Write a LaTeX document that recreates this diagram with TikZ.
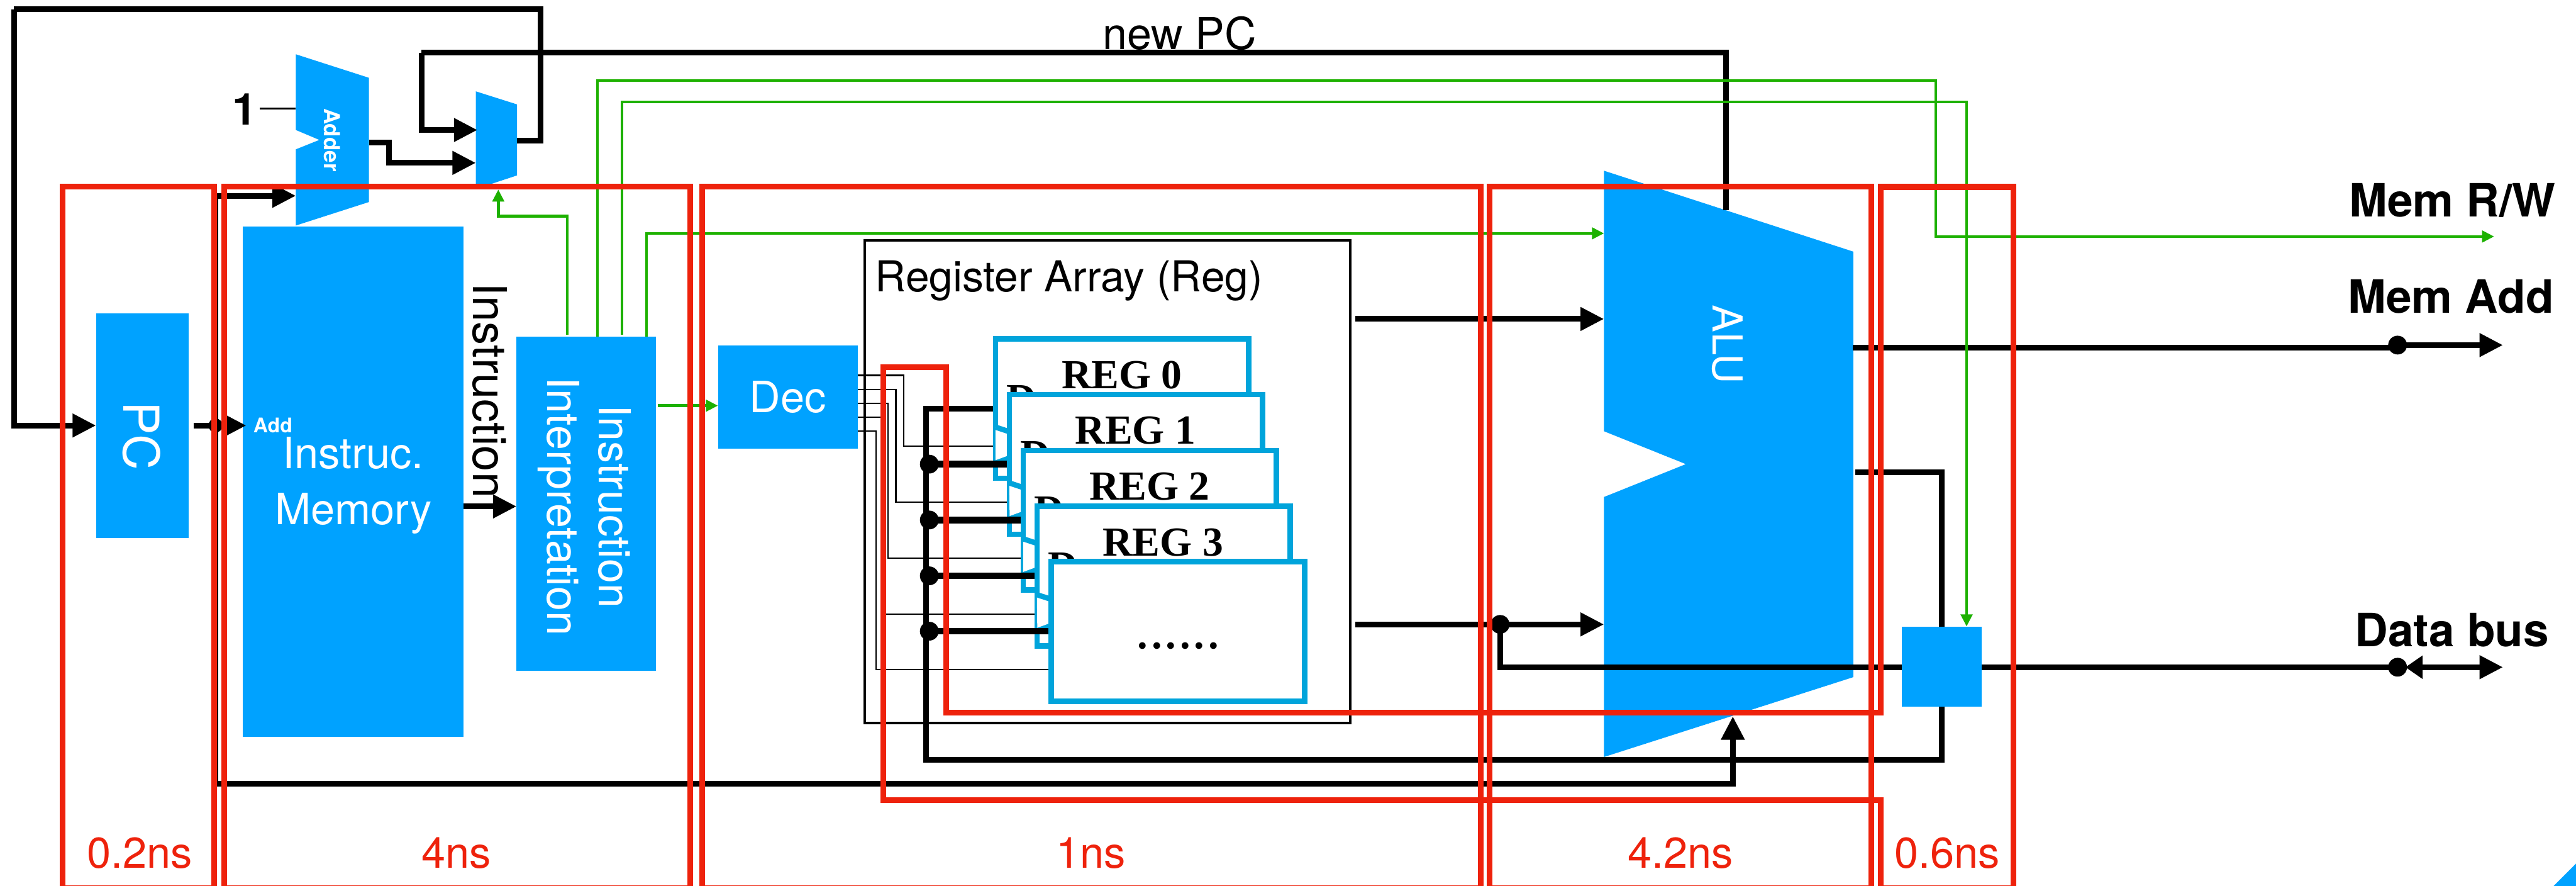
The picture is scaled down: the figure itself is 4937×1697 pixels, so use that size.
\documentclass[tikz,border=0pt]{standalone}
\usepackage{fontspec}
\setmainfont{TeX Gyre Heros}
\newfontfamily\regfont{Liberation Serif}
\usepackage{xcolor}
\usetikzlibrary{
    positioning,     % relative node placement
    arrows.meta,     % Triangle tips
    calc             % coordinate calculations
}
\definecolor{blockblue}{HTML}{00A2FF}
\definecolor{regblue}{HTML}{00A4DB}
\definecolor{stagered}{HTML}{EE220C}
\definecolor{ctrlgreen}{HTML}{1DB100}

\begin{document}
\begin{tikzpicture}[x=0.01cm, y=-0.01cm]

    % --- Style Definitions ---
    \tikzset{
        % the solid blue blocks
        block/.style={
            rectangle,
            fill=blockblue,
            inner sep=0pt,
            outer sep=0pt,
            font=\fontsize{23.5}{30.5}\selectfont,
            text=white,
            align=center
        },
        % white label turned on its side
        sidelabel/.style={
            font=\fontsize{24}{28}\selectfont,
            text=white,
            align=center,
            rotate=-90,
            inner sep=0pt
        },
        % the register cards
        regcard/.style={
            rectangle,
            draw=regblue,
            line width=2.9pt,
            fill=white,
            minimum width=4.85cm,
            minimum height=2.67cm,
            inner sep=0pt
        },
        regname/.style={
            font=\regfont\bfseries\fontsize{22.5}{26}\selectfont,
            inner sep=0pt
        },
        clock/.style={
            draw=regblue,
            line width=2.9pt,
            fill=white
        },
        % black connections
        bus/.style={
            line width=3.1pt
        },
        busarrow/.style={
            bus,
            -{Triangle[length=0.45cm, width=0.43cm]}
        },
        wire/.style={
            line width=0.75pt
        },
        % green control lines
        ctrl/.style={
            draw=ctrlgreen,
            line width=1.5pt,
            -{Triangle[length=0.23cm, width=0.22cm]}
        },
        junction/.style={
            circle,
            fill=black,
            inner sep=0pt,
            minimum size=0.36cm
        },
        % red timing regions
        stage/.style={
            rectangle,
            draw=stagered,
            line width=3.1pt,
            inner sep=0pt,
            minimum height=13.43cm
        },
        stagetime/.style={
            font=\fontsize{23.5}{26}\selectfont,
            text=stagered,
            inner sep=0pt
        },
        outlabel/.style={
            font=\bfseries\fontsize{25}{30}\selectfont,
            inner sep=0pt
        }
    }

    \useasboundingbox (0,0) rectangle (4937,1697);

    % --- Blocks ---
    \node[block, minimum width=1.78cm, minimum height=4.30cm] (pc) at (273,815) {};
    \node[block, minimum width=4.23cm, minimum height=9.77cm] (imem) at (676.5,922.5) {};
    \node[block, minimum width=2.67cm, minimum height=6.40cm] (interp) at (1123.5,965) {};
    \node[block, minimum width=2.68cm, minimum height=1.97cm] (dec) at (1510,760.5) {Dec};
    \node[block, minimum width=1.53cm, minimum height=1.53cm] (gate) at (3721.5,1276.5) {};

    \node[sidelabel, font=\fontsize{27}{30}\selectfont] (pclabel) at (271,835) {PC};
    \node[block, fill=none] (imemlabel) at (677,930) {Instruc.\\Memory};
    \node[sidelabel] (interplabel) at (1120,970) {Instruction\\Interpretation};
    \node[font=\bfseries\fontsize{11}{13}\selectfont, text=white, inner sep=0pt] (addlabel) at (523,815) {Add};

    % Adder, mux and ALU are notched shapes
    \fill[blockblue] (567,104) -- (707,149) -- (707,387) -- (567,432) -- (567,286) -- (612,268) -- (567,249) -- cycle;
    \fill[blockblue] (912,175) -- (991,200) -- (991,336) -- (912,362) -- cycle;
    \fill[blockblue] (3074,327) -- (3552,482) -- (3552,1297) -- (3074,1450) -- (3074,952) -- (3231,889) -- (3074,826) -- cycle;

    \node[sidelabel, font=\bfseries\fontsize{12}{14}\selectfont] (adder) at (636,268) {Adder};
    \node[sidelabel, font=\fontsize{22.5}{26}\selectfont] (alu) at (3311,660) {ALU};

    \coordinate (adderone) at (567,208);
    \coordinate (adderpc) at (567,375);
    \coordinate (adderout) at (708,273);
    \coordinate (muxa) at (915,249);
    \coordinate (muxb) at (912,312);
    \coordinate (muxout) at (991,269);
    \coordinate (muxctrl) at (955,363);
    \coordinate (aluctrl) at (3074,447);
    \coordinate (aluup) at (3308,403);
    \coordinate (alua) at (3074,611);
    \coordinate (alub) at (3074,1196);
    \coordinate (aluout) at (3551,666);
    \coordinate (aluback) at (3556,905);
    \coordinate (alupc) at (3321,1372);

    % --- Register array ---
    \node[rectangle, draw, line width=1.4pt, minimum width=9.29cm, minimum height=9.24cm, inner sep=0pt] (regarray) at (2122.5,923) {};
    \node[font=\fontsize{23.2}{27}\selectfont, inner sep=0pt, anchor=base west] (regtitle) at (1677,559) {Register Array (Reg)};

    \node[regcard] (reg0) at (2150.5,782.5) {};
    \node[regname] (reg0name) at (2150,718) {REG 0};
    \node[regname, anchor=base west] (reg0d) at (1928,790) {D};
    \draw[clock] (reg0.west |- 0,818) ++(5,0) -- (2007,851) -- (1908,887);

    \node[regcard] (reg1) at (2177,889.5) {};
    \node[regname] (reg1name) at (2176,825) {REG 1};
    \node[regname, anchor=base west] (reg1d) at (1955,897) {D};
    \draw[clock] (reg1.west |- 0,925) ++(5,0) -- (2034,958) -- (1935,994);

    \node[regcard] (reg2) at (2203.5,996.5) {};
    \node[regname] (reg2name) at (2203,932) {REG 2};
    \node[regname, anchor=base west] (reg2d) at (1981,1004) {D};
    \draw[clock] (reg2.west |- 0,1032) ++(5,0) -- (2060,1065) -- (1961,1101);

    \node[regcard] (reg3) at (2230,1103.5) {};
    \node[regname] (reg3name) at (2229,1039) {REG 3};
    \node[regname, anchor=base west] (reg3d) at (2008,1111) {D};
    \draw[clock] (reg3.west |- 0,1139) ++(5,0) -- (2087,1172) -- (1988,1208);

    \node[regcard] (regmore) at (2257.5,1209.5) {};
    \node[font=\regfont\fontsize{31}{36}\selectfont, inner sep=0pt, anchor=base] (regdots) at (2258,1242) {......};

    % --- Junctions ---
    \node[junction, minimum size=0.27cm] (pcdot) at (413,815) {};
    \node[junction] (regdot0) at (1781,889) {};
    \node[junction] (regdot1) at (1781,996) {};
    \node[junction] (regdot2) at (1781,1103) {};
    \node[junction] (regdot3) at (1781,1209) {};
    \node[junction] (bdot) at (2875,1196) {};
    \node[junction] (memdot) at (4595,661) {};
    \node[junction] (datadot) at (4595,1278) {};

    % --- Black connections ---
    % PC out, up to the adder and round to the ALU
    \draw[busarrow] (371,815) -- (472,815);
    \draw[busarrow] (pcdot.center) |- (adderpc);
    \draw[busarrow] (pcdot.center) |- (3321,1501) -- (alupc);

    % adder and mux
    \node[font=\bfseries\fontsize{24}{28}\selectfont, inner sep=0pt] (one) at (469,209) {1};
    \draw[line width=1.1pt] (one.east) ++(5,-1) -- (adderone);
    \draw[busarrow] (adderout) -| (746,312) -- (muxb);
    \coordinate (looptop) at (1036,18);
    \coordinate (loopleft) at (27,18);
    \draw[bus] (muxout) -| (looptop) -- (loopleft);
    \draw[busarrow] (loopleft) |- (pc.west);
    \coordinate (newpcright) at (3308,101);
    \coordinate (newpcleft) at (808,101);
    \draw[bus] (aluup) -- (newpcright) -- (newpcleft);
    \draw[busarrow] (newpcleft) |- (muxa);
    \draw[busarrow] (imem.east |- 0,970) -- (interp.west |- 0,970);

    % register array outputs
    \draw[busarrow] (2598,611) -- (alua);
    \draw[busarrow] (2598,1196) -- (alub);

    % ALU to memory and data bus
    \draw[bus] (aluout) -- (aluout -| memdot);
    \coordinate (memaddr) at (4797,661);
    \draw[busarrow] (memdot.center) -- (memaddr);
    \draw[bus] (bdot.center) |- (gate.west |- datadot);
    \draw[bus] (gate.east |- datadot) -- (datadot.center);
    \coordinate (databus) at (4797,1278);
    \draw[bus, {Triangle[length=0.33cm, width=0.43cm]}-{Triangle[length=0.45cm, width=0.43cm]}] (4610,1278) -- (databus);
    \draw[bus] (aluback) -| (gate.north);
    \draw[bus] (gate.south) |- (1775,1455) -- (1775,783) -- (reg0.west |- 0,783);

    % register write lines
    \draw[line width=3.6pt] (regdot0.center) -- (regdot0 -| reg1.west);
    \draw[line width=3.6pt] (regdot1.center) -- (regdot1 -| reg2.west);
    \draw[line width=3.6pt] (regdot2.center) -- (regdot2 -| reg3.west);
    \draw[line width=3.6pt] (regdot3.center) -- (regdot3 -| regmore.west);

    % decoder select lines
    \draw[wire] (dec.east |- 0,719) -- (1732,719) |- (reg0.west |- 0,855);
    \draw[wire] (dec.east |- 0,746) -- (1717,746) |- (reg1.west |- 0,962);
    \draw[wire] (dec.east |- 0,773) -- (1702,773) |- (reg2.west |- 0,1069);
    \draw[wire] (dec.east |- 0,799) -- (1691,799) |- (reg3.west |- 0,1176);
    \draw[wire] (dec.east |- 0,826) -- (1679,826) |- (regmore.west |- 0,1282);

    % --- Green control lines ---
    \draw[ctrl] (1261,777) -- (dec.west |- 0,777);
    \draw[ctrl] (1087,641) |- (955,414) -- (muxctrl);
    \draw[ctrl] (1145,645) |- (3710,154) |- (4780,453);
    \draw[ctrl] (1192,641) |- (3769,195) -- (gate.north -| 3769,0);
    \draw[ctrl] (1239,645) |- (aluctrl);

    % --- Red timing regions ---
    \node[stage, minimum width=2.90cm] (stage1) at (265,1029.5) {};
    \node[stage, minimum width=8.93cm] (stage2) at (876.5,1029.5) {};
    \node[stage, minimum width=14.91cm] (stage3) at (2091.5,1029.5) {};
    \node[stage, minimum width=7.31cm] (stage4) at (3220.5,1029.5) {};
    \draw[stagered, line width=3.1pt] (3604,358) -- (3859,358) -- (3859,1701) -- (3604,1701) -- (3604,1532)
        -- (1693,1532) -- (1693,703) -- (1813,703) -- (1813,1365) -- (3604,1365) -- cycle;

    \node[stagetime] (time1) at (268,1634) {0.2ns};
    \node[stagetime] (time2) at (875,1634) {4ns};
    \node[stagetime] (time3) at (2091,1634) {1ns};
    \node[stagetime] (time4) at (3221,1634) {4.2ns};
    \node[stagetime] (time5) at (3732,1634) {0.6ns};

    % --- Other labels ---
    \node[font=\fontsize{24}{28}\selectfont, inner sep=0pt, anchor=base] (newpc) at (2261,95) {new PC};
    \node[sidelabel, text=black, font=\fontsize{25.4}{30}\selectfont] (instrlabel) at (939,748) {Instruction};
    \node[outlabel] (memrw) at (4700,384) {Mem R/W};
    \node[outlabel] (memadd) at (4697,568) {Mem Add};
    \node[outlabel] (databuslabel) at (4699,1207) {Data bus};

    \fill[blockblue] (4894,1697) -- (4937,1654) -- (4937,1697) -- cycle;

\end{tikzpicture}
\end{document}
